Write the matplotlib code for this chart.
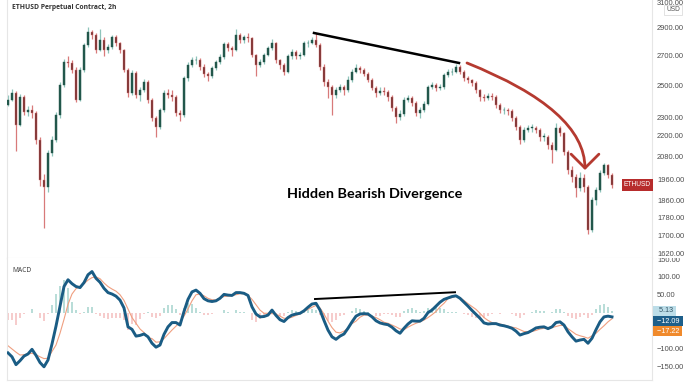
import matplotlib
matplotlib.use("Agg")
import matplotlib.pyplot as plt
from matplotlib.path import Path
from matplotlib.patches import FancyArrowPatch
from matplotlib.ticker import FixedLocator, FuncFormatter, NullLocator
from matplotlib.transforms import Bbox, TransformedBbox

# ---------------- data ----------------
first_open = 2380
closes = [2409, 2453, 2259, 2428, 2335, 2347, 2329, 2173, 1960, 1925,
          2102, 2173, 2317, 2504, 2656, 2650, 2603, 2409, 2603, 2776,
          2870, 2848, 2740, 2812, 2740, 2762, 2834, 2790, 2740, 2603,
          2453, 2583, 2440, 2472, 2523, 2409, 2299, 2247, 2347, 2453,
          2440, 2428, 2329, 2317, 2549, 2636, 2670, 2670, 2623, 2576,
          2563, 2616, 2656, 2691, 2783, 2754, 2740, 2848, 2812, 2834,
          2827, 2705, 2636, 2656, 2705, 2754, 2790, 2670, 2636, 2589,
          2698, 2726, 2698, 2705, 2790, 2790, 2812, 2776, 2623, 2523,
          2491, 2440, 2472, 2491, 2472, 2536, 2589, 2616, 2603, 2576,
          2536, 2485, 2453, 2466, 2459, 2428, 2359, 2305, 2323, 2409,
          2422, 2390, 2329, 2347, 2384, 2491, 2504, 2485, 2491, 2569,
          2589, 2589, 2623, 2589, 2549, 2536, 2517, 2472, 2428, 2422,
          2434, 2428, 2378, 2347, 2347, 2341, 2299, 2247, 2173, 2230,
          2242, 2242, 2230, 2190, 2190, 2145, 2118, 2242, 2213, 2107,
          2011, 1976, 1920, 1971, 1925, 1723, 1862, 1910, 1996, 2037,
          1986, 1935]
highs = [2440, 2475, 2465, 2445, 2440, 2370, 2380, 2340, 2190, 1990,
         2120, 2195, 2335, 2520, 2680, 2700, 2670, 2620, 2620, 2790,
         2910, 2885, 2860, 2895, 2830, 2780, 2850, 2850, 2800, 2750,
         2615, 2600, 2595, 2490, 2540, 2535, 2420, 2310, 2360, 2470,
         2480, 2470, 2440, 2345, 2565, 2655, 2690, 2700, 2685, 2640,
         2590, 2630, 2670, 2710, 2800, 2800, 2770, 2890, 2860, 2850,
         2865, 2835, 2715, 2675, 2720, 2770, 2820, 2800, 2680, 2650,
         2710, 2745, 2740, 2725, 2805, 2815, 2830, 2865, 2790, 2640,
         2540, 2505, 2490, 2510, 2505, 2560, 2610, 2640, 2630, 2615,
         2590, 2550, 2500, 2490, 2490, 2470, 2440, 2370, 2345, 2425,
         2440, 2435, 2400, 2365, 2400, 2505, 2520, 2515, 2510, 2585,
         2610, 2615, 2640, 2635, 2600, 2560, 2545, 2530, 2480, 2445,
         2455, 2450, 2440, 2390, 2365, 2360, 2355, 2310, 2260, 2245,
         2260, 2265, 2255, 2240, 2210, 2200, 2160, 2270, 2250, 2220,
         2120, 2030, 1990, 2000, 1990, 1935, 1875, 1925, 2010, 2050,
         2045, 1995]
lows = [2370, 2400, 2110, 2250, 2320, 2310, 2300, 2150, 1930, 1730,
        1900, 2085, 2160, 2300, 2490, 2620, 2580, 2395, 2400, 2590,
        2760, 2820, 2720, 2730, 2700, 2720, 2750, 2770, 2720, 2590,
        2430, 2440, 2420, 2400, 2460, 2390, 2280, 2190, 2235, 2335,
        2420, 2400, 2310, 2280, 2305, 2530, 2620, 2640, 2605, 2555,
        2530, 2550, 2600, 2640, 2680, 2735, 2700, 2730, 2790, 2790,
        2800, 2690, 2560, 2620, 2640, 2695, 2740, 2650, 2610, 2570,
        2580, 2680, 2680, 2680, 2695, 2760, 2780, 2760, 2600, 2500,
        2420, 2317, 2420, 2460, 2440, 2460, 2525, 2580, 2580, 2560,
        2520, 2470, 2430, 2440, 2440, 2400, 2340, 2270, 2290, 2310,
        2395, 2370, 2310, 2300, 2335, 2375, 2480, 2465, 2470, 2480,
        2555, 2570, 2580, 2575, 2530, 2515, 2500, 2455, 2405, 2400,
        2410, 2410, 2360, 2330, 2325, 2320, 2280, 2230, 2150, 2160,
        2220, 2220, 2210, 2170, 2165, 2125, 2048, 2110, 2195, 2090,
        1990, 1950, 1877, 1905, 1900, 1705, 1715, 1840, 1900, 1985,
        1970, 1920]
macd = [-113, -124, -146, -135, -122, -116, -103, -120, -140, -152,
        -133, -88, -38, 17, 73, 92, 81, 73, 70, 84,
        106, 115, 96, 85, 68, 56, 52, 46, 35, 13,
        -40, -47, -66, -64, -60, -68, -86, -97, -91, -61,
        -40, -28, -28, -35, 3, 37, 58, 63, 54, 39,
        33, 31, 33, 40, 51, 49, 48, 56, 56, 54,
        48, 16, -4, -12, -11, -7, 7, -8, -20, -25,
        -14, -7, -4, -2, 5, 15, 24, 26, 7, -22,
        -49, -68, -75, -66, -60, -44, -26, -10, -4, -3,
        -4, -12, -23, -29, -32, -34, -41, -51, -58, -44,
        -32, -23, -24, -24, -16, 0, 7, 18, 29, 37,
        41, 45, 47, 40, 29, 18, 6, -5, -16, -29,
        -32, -31, -31, -35, -37, -40, -44, -52, -63, -59,
        -56, -50, -43, -41, -40, -45, -40, -28, -26, -35,
        -54, -68, -80, -77, -75, -86, -72, -48, -26, -12,
        -10, -12.09]
signal = [-93, -102, -111, -119, -118, -116, -114, -118, -124, -129,
          -128, -109, -91, -58, -19, 23, 52, 67, 74, 81,
          91, 98, 100, 95, 83, 73, 66, 60, 50, 34,
          10, -14, -30, -46, -56, -70, -73, -83, -82, -73,
          -61, -49, -38, -27, -10, 10, 33, 50, 52, 47,
          40, 36, 35, 41, 45, 46, 48, 50, 53, 53,
          48, 37, 22, 7, -2, -2, -3, -4, -10, -16,
          -16, -13, -8, -4, 3, 9, 15, 20, 13, -4,
          -24, -42, -55, -57, -52, -44, -31, -24, -13, -7,
          -7, -10, -14, -20, -27, -30, -35, -40, -46, -48,
          -41, -35, -30, -26, -21, -14, -6, 3, 16, 26,
          39, 42, 46, 42, 34, 25, 17, 9, -2, -14,
          -22, -28, -30, -32, -35, -38, -41, -43, -48, -53,
          -54, -53, -50, -46, -44, -44, -42, -39, -36, -36,
          -45, -53, -61, -65, -68, -72, -65, -58, -47, -37,
          -26, -17.22]
hist_last = 5.13
price_ticks = [3100, 2900, 2700, 2500, 2300, 2200, 2080, 1960, 1860, 1780, 1700, 1620]
macd_ticks = [150, 100, 50, -100, -150]

title = "ETHUSD Perpetual Contract, 2h"
annotation = "Hidden Bearish Divergence"

# ---------------- figure ----------------
W, H = 692, 390
fig = plt.figure(figsize=(W / 100, H / 100), dpi=100)
fig.patch.set_facecolor("white")
plt.rcParams["font.family"] = ["Liberation Sans", "DejaVu Sans"]

def px_axes(x0, y0, x1, y1):
    return fig.add_axes([x0 / W, 1 - y1 / H, (x1 - x0) / W, (y1 - y0) / H])

ax = px_axes(7, 0, 652, 258)
axm = px_axes(7, 258, 652, 380)

n = len(closes)
idx = list(range(n))
opens = [first_open] + closes[:-1]

up_body, up_wick = "#22574b", "#8fc4bb"
dn_body, dn_wick = "#742b2b", "#d87a7a"

for i in idx:
    o, c = opens[i], closes[i]
    up = c >= o
    ax.vlines(i, lows[i], highs[i], color=up_wick if up else dn_wick, lw=0.9, zorder=2)
    lo, hi = min(o, c), max(o, c)
    if hi - lo < 2:
        hi = lo + 3
    ax.bar(i, hi - lo, bottom=lo, width=0.55, color=up_body if up else dn_body,
           edgecolor=dn_wick if not up else up_body, linewidth=0.3, zorder=3)

ax.set_yscale("log")
ax.set_ylim(1603, 3117)
ax.set_xlim(-0.25, 161)
ax.yaxis.set_major_locator(FixedLocator(price_ticks))
ax.yaxis.set_minor_locator(NullLocator())
ax.yaxis.set_major_formatter(FuncFormatter(lambda v, p: f"{v:.2f}"))
ax.yaxis.tick_right()
ax.tick_params(axis="y", length=0, pad=3.6, labelsize=5.4, labelcolor="#4d4d4d")
ax.set_xticks([])
ax.spines["top"].set_visible(False)
for s in ["left", "right", "bottom"]:
    ax.spines[s].set_color("#e6e6e6")
    ax.spines[s].set_linewidth(0.8)

ax.text(0.008, 0.985, title, transform=ax.transAxes, ha="left", va="top",
        fontsize=4.9, fontweight="bold", color="#333333", family="Open Sans")

# USD unit box
ax.text(1.0325, 0.962, "USD", transform=ax.transAxes, ha="center", va="center",
        fontsize=4.8, color="#555555",
        bbox=dict(boxstyle="square,pad=0.25", fc="white", ec="#dddddd", lw=0.6))

# ETHUSD label
ax.text(0.9985, closes[-1], "ETHUSD", transform=ax.get_yaxis_transform(), ha="right",
        va="center", fontsize=4.8, color="white",
        bbox=dict(boxstyle="square,pad=0.35", fc="#b72c2c", ec="none"))

# divergence line on price
ax.plot([76.5, 112.75], [2863, 2650], color="black", lw=1.8, zorder=5)

# curved red arrow
arc = Path([(114.75, 2650), (144.25, 2347), (144.25, 2011)],
           [Path.MOVETO, Path.CURVE3, Path.CURVE3])
arrow = FancyArrowPatch(path=arc, arrowstyle="->,head_length=0.5,head_width=0.5",
                        mutation_scale=20, color="#b53a30", lw=2.0, zorder=6,
                        transform=ax.transData)
ax.add_patch(arrow)

ax.text(0.5705, 0.248, annotation, transform=ax.transAxes, ha="center", va="center",
        fontsize=10.4, fontweight="bold", color="black", family="Lato")

# ---------------- MACD ----------------
hist = [m - s for m, s in zip(macd, signal)]
hist[-1] = hist_last
hcols = ["#b9ddd8" if h >= 0 else "#f6cccc" for h in hist]
axm.bar(idx, hist, width=0.45, color=hcols, zorder=1)
axm.plot(idx, signal, color="#ef9f80", lw=0.8, zorder=2)
axm.plot(idx, macd, color="#1a5c84", lw=2.1, zorder=3)
axm.plot([76.75, 111.75], [38, 57], color="black", lw=1.4, zorder=4)

axm.set_xlim(-0.25, 161)
axm.set_ylim(-189, 153)
axm.yaxis.set_major_locator(FixedLocator(macd_ticks))
axm.yaxis.set_major_formatter(FuncFormatter(lambda v, p: f"{v:.2f}" if v > 0 else f"\u2212{abs(v):.2f}"))
axm.yaxis.tick_right()
axm.tick_params(axis="y", length=0, pad=3.6, labelsize=5.4, labelcolor="#4d4d4d")
axm.set_xticks([])
axm.spines["top"].set_visible(False)
for s in ["left", "right", "bottom"]:
    axm.spines[s].set_color("#e6e6e6")
    axm.spines[s].set_linewidth(0.8)

axm.text(0.008, 0.93, "MACD", transform=axm.transAxes, ha="left", va="top",
         fontsize=4.8, color="#333333", family="Open Sans")

ytr = axm.get_yaxis_transform()
axm.text(1.004, 5.13, "  5.13 ", transform=ytr, ha="left", va="center", fontsize=5.2,
         color="#335566", bbox=dict(boxstyle="square,pad=0.2", fc="#bcdde8", ec="none"))
axm.text(1.004, -24, f" \u2212{abs(macd[-1]):.2f} ", transform=ytr, ha="left", va="center",
         fontsize=5.2, color="white", bbox=dict(boxstyle="square,pad=0.2", fc="#1d5f8a", ec="none"))
axm.text(1.004, -52, f" \u2212{abs(signal[-1]):.2f} ", transform=ytr, ha="left", va="center",
         fontsize=5.2, color="white", bbox=dict(boxstyle="square,pad=0.2", fc="#f08a2c", ec="none"))

# clip tick labels to their own pane (as the panes of the reference do)
pane_price = TransformedBbox(Bbox.from_extents(0, 1 - 258 / H, 1, 1), fig.transFigure)
pane_macd = TransformedBbox(Bbox.from_extents(0, 1 - 380 / H, 1, 1 - 258 / H), fig.transFigure)
for a, pane in ((ax, pane_price), (axm, pane_macd)):
    for t in a.yaxis.get_major_ticks():
        t.label2.set_clip_box(pane)
        t.label2.set_clip_on(True)

fig.savefig("out.png", dpi=100, facecolor="white")
